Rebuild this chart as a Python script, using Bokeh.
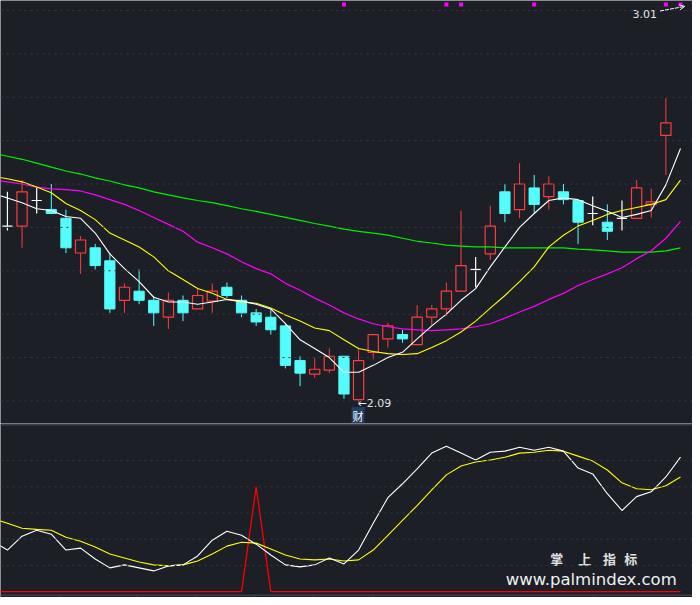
from bokeh.plotting import figure
from bokeh.layouts import column
from bokeh.models import Span, Arrow, OpenHead
from bokeh.core.properties import value
from bokeh.embed import file_html
from bokeh.resources import INLINE

BG = "#1c1f26"
GRID = "#353a45"
RED = "#ff3c3c"
CYAN = "#54fcfc"

# ---------------- data ----------------
opens = [2.495, 2.495, 2.554, 2.533, 2.513, 2.433, 2.445, 2.415, 2.324, 2.345, 2.324, 2.285, 2.324, 2.304, 2.322, 2.354,
         2.324, 2.295, 2.285, 2.265, 2.185, 2.154, 2.163, 2.195, 2.095, 2.204, 2.235, 2.245, 2.222, 2.285, 2.304, 2.345,
         2.395, 2.431, 2.574, 2.533, 2.583, 2.563, 2.574, 2.554, 2.524, 2.504, 2.513, 2.513, 2.545, 2.704]
highs = [2.574, 2.601, 2.583, 2.592, 2.533, 2.472, 2.454, 2.433, 2.363, 2.395, 2.333, 2.342, 2.335, 2.351, 2.363, 2.365,
         2.335, 2.304, 2.304, 2.272, 2.195, 2.192, 2.213, 2.195, 2.213, 2.245, 2.272, 2.256, 2.313, 2.313, 2.365, 2.531,
         2.424, 2.542, 2.592, 2.640, 2.613, 2.610, 2.592, 2.556, 2.563, 2.545, 2.554, 2.601, 2.581, 2.790]
lows = [2.485, 2.445, 2.524, 2.524, 2.433, 2.385, 2.395, 2.295, 2.295, 2.315, 2.265, 2.258, 2.276, 2.304, 2.295, 2.329,
        2.285, 2.265, 2.245, 2.167, 2.126, 2.145, 2.156, 2.097, 2.090, 2.188, 2.215, 2.226, 2.222, 2.267, 2.288, 2.345,
        2.354, 2.417, 2.504, 2.513, 2.524, 2.533, 2.545, 2.454, 2.497, 2.463, 2.485, 2.513, 2.515, 2.613]
closes = [2.495, 2.574, 2.554, 2.524, 2.445, 2.463, 2.404, 2.304, 2.354, 2.324, 2.295, 2.324, 2.295, 2.335, 2.345, 2.335,
          2.295, 2.274, 2.256, 2.174, 2.156, 2.165, 2.195, 2.108, 2.185, 2.245, 2.265, 2.235, 2.285, 2.304, 2.345, 2.404,
          2.395, 2.495, 2.524, 2.592, 2.545, 2.592, 2.556, 2.504, 2.524, 2.483, 2.513, 2.583, 2.551, 2.733]

# moving-average lines (one point before the first candle to one after the last)
ma_white = [2.570, 2.560, 2.549, 2.535, 2.531, 2.517, 2.513, 2.479, 2.431, 2.397, 2.367, 2.331, 2.320, 2.320, 2.315, 2.320,
            2.326, 2.322, 2.315, 2.304, 2.270, 2.233, 2.213, 2.192, 2.158, 2.158, 2.174, 2.192, 2.204, 2.235, 2.265, 2.292,
            2.324, 2.351, 2.401, 2.447, 2.492, 2.524, 2.554, 2.560, 2.556, 2.542, 2.529, 2.515, 2.522, 2.531, 2.590, 2.674]
ma_yellow = [2.610, 2.604, 2.597, 2.585, 2.572, 2.547, 2.531, 2.510, 2.479, 2.463, 2.447, 2.424, 2.392, 2.372, 2.351, 2.340,
             2.326, 2.320, 2.317, 2.306, 2.290, 2.276, 2.260, 2.254, 2.233, 2.213, 2.206, 2.201, 2.199, 2.201, 2.215, 2.231,
             2.251, 2.276, 2.306, 2.335, 2.367, 2.401, 2.447, 2.474, 2.495, 2.508, 2.522, 2.531, 2.538, 2.545, 2.556, 2.601]
ma_magenta = [2.601, 2.597, 2.592, 2.585, 2.581, 2.579, 2.576, 2.567, 2.556, 2.545, 2.531, 2.515, 2.499, 2.483, 2.458, 2.445,
              2.431, 2.413, 2.397, 2.385, 2.363, 2.347, 2.329, 2.313, 2.295, 2.281, 2.270, 2.263, 2.258, 2.256, 2.254, 2.256,
              2.258, 2.263, 2.270, 2.283, 2.297, 2.310, 2.326, 2.340, 2.358, 2.372, 2.385, 2.399, 2.420, 2.438, 2.467, 2.506]
ma_green = [2.663, 2.656, 2.649, 2.640, 2.631, 2.622, 2.615, 2.606, 2.599, 2.590, 2.583, 2.574, 2.567, 2.560, 2.554, 2.549,
            2.542, 2.535, 2.529, 2.522, 2.515, 2.508, 2.501, 2.495, 2.488, 2.483, 2.479, 2.474, 2.467, 2.460, 2.456, 2.451,
            2.449, 2.447, 2.447, 2.445, 2.445, 2.445, 2.445, 2.445, 2.442, 2.440, 2.438, 2.435, 2.435, 2.435, 2.438, 2.445]

# lower indicator panel
ind_white = [38.5, 31.7, 42.3, 46.8, 43.8, 31.7, 33.2, 24.9, 18.1, 20.4, 18.1, 15.8, 19.6, 20.4, 27.2, 39.2,
             46.0, 43.0, 36.2, 27.9, 20.4, 18.9, 20.4, 25.7, 21.1, 31.7, 52.1, 71.7, 82.3, 93.6, 105.7, 110.9,
             105.7, 100.4, 106.4, 107.2, 110.2, 107.9, 110.2, 107.2, 94.3, 89.8, 74.7, 61.9, 72.5, 76.2, 87.5, 102.6]
ind_yellow = [55.8, 52.1, 48.3, 47.5, 46.8, 41.5, 38.5, 34.0, 28.7, 25.7, 22.6, 20.4, 19.6, 20.4, 23.4, 28.7,
              34.7, 37.7, 37.0, 32.5, 27.9, 24.9, 24.2, 24.9, 23.4, 24.2, 31.7, 43.0, 54.3, 65.7, 77.7, 89.1,
              95.8, 98.9, 100.4, 102.6, 105.7, 106.4, 107.9, 107.2, 103.4, 99.6, 92.8, 83.0, 78.5, 77.7, 80.8, 87.5]
ind_red = [0, 0, 0, 0, 0, 0, 0, 0, 0, 0, 0, 0, 0, 0, 0, 0, 0, 0, 80, 0, 0, 0, 0, 0,
           0, 0, 0, 0, 0, 0, 0, 0, 0, 0, 0, 0, 0, 0, 0, 0, 0, 0, 0, 0, 0, 0, 0, 0]

signal_dots = [23, 30, 31, 36, 45, 46]
signal_level = 3.006
max_label = "3.01"
min_label = "←2.09"
min_tag = "财"
price_grid = [2.092, 2.192, 2.292, 2.392, 2.492, 2.592, 2.692, 2.792, 2.892, 2.992]
ind_grid = [20, 40, 60, 80, 100]
date_ticks = [3.58, 8.85, 12.9, 16.9, 20.9, 25.0, 40.07]
wm_chars = ["掌", "上", "指", "标"]
wm_url = "www.palmindex.com"

n = len(opens)
xs = list(range(n))
line_x = list(range(-1, n + 1))
X_RANGE = (-0.473, 46.82)

# ---------------- main price panel ----------------
p = figure(width=692, height=423, x_range=X_RANGE, y_range=(2.04, 3.015),
           output_backend="svg", toolbar_location=None,
           background_fill_color=BG, border_fill_color=BG, min_border=0,
           outline_line_color=None, x_axis_location=None, y_axis_location=None)
p.grid.visible = False

for g in price_grid:
    p.add_layout(Span(location=g, dimension="width", line_color=GRID, line_width=1, line_dash="2 4"))

up = [i for i in xs if closes[i] > opens[i]]
dn = [i for i in xs if closes[i] < opens[i]]
dj = [i for i in xs if closes[i] == opens[i]]
W = 0.70

p.segment([xs[i] for i in up], [highs[i] for i in up], [xs[i] for i in up], [lows[i] for i in up],
          line_color=RED, line_width=1)
p.vbar(x=[xs[i] for i in up], width=W, top=[closes[i] for i in up], bottom=[opens[i] for i in up],
       fill_color=BG, line_color=RED, line_width=1.2)

p.segment([xs[i] for i in dn], [highs[i] for i in dn], [xs[i] for i in dn], [lows[i] for i in dn],
          line_color=CYAN, line_width=1)
p.vbar(x=[xs[i] for i in dn], width=W, top=[opens[i] for i in dn], bottom=[closes[i] for i in dn],
       fill_color=CYAN, line_color=CYAN, line_width=1)

p.segment([xs[i] for i in dj], [highs[i] for i in dj], [xs[i] for i in dj], [lows[i] for i in dj],
          line_color="white", line_width=1.2)
p.segment([xs[i] - W / 2 for i in dj], [opens[i] for i in dj], [xs[i] + W / 2 for i in dj], [opens[i] for i in dj],
          line_color="white", line_width=1.2)

p.line(line_x, ma_green, line_color="#00f000", line_width=1.2)
p.line(line_x, ma_magenta, line_color="#ff00ff", line_width=1.2)
p.line(line_x, ma_yellow, line_color="#ffff00", line_width=1.1)
p.line(line_x, ma_white, line_color="#ffffff", line_width=1.1)

p.scatter(signal_dots, [signal_level] * len(signal_dots), marker="square", size=4,
          fill_color="#ff00ff", line_color=None)

p.text(x=[44.39], y=[2.985], text=[max_label], text_color="#e6e6e6", text_font=value("DejaVu Sans"),
       text_font_size="11px", text_align="right", text_baseline="middle")
p.add_layout(Arrow(end=OpenHead(size=5, line_color="white", line_width=1), x_start=44.6, y_start=2.9907,
                   x_end=46.28, y_end=3.0014, line_color="white", line_width=1, line_dash="4 1"))

p.text(x=[23.92], y=[2.0855], text=[min_label], text_color="#e6e6e6", text_font=value("DejaVu Sans"),
       text_font_size="11px", text_align="left", text_baseline="middle")
p.text(x=[23.96], y=[2.057], text=[min_tag], text_color="#ffffff", text_font=value("Noto Sans CJK SC"),
       text_font_size="11px", text_align="center", text_baseline="middle",
       background_fill_color="#1f3d66", padding=1)

# ---------------- lower indicator panel ----------------
q = figure(width=692, height=174, x_range=p.x_range, y_range=(-4.5, 128.3),
           output_backend="svg", toolbar_location=None,
           background_fill_color=BG, border_fill_color=BG, min_border=0,
           outline_line_color=None, x_axis_location=None, y_axis_location=None)
q.grid.visible = False

q.add_layout(Span(location=127.6, dimension="width", line_color="#3a404c", line_width=2))
for g in ind_grid:
    q.add_layout(Span(location=g, dimension="width", line_color=GRID, line_width=1, line_dash="2 4"))
q.add_layout(Span(location=-2.8, dimension="width", line_color="#3a404c", line_width=1.5))
q.segment(date_ticks, [-2.8] * len(date_ticks), date_ticks, [-4.5] * len(date_ticks),
          line_color="#3a404c", line_width=1)

q.line(line_x, ind_red, line_color="#ff0000", line_width=1.3)
q.line(line_x, ind_yellow, line_color="#ffff00", line_width=1.1)
q.line(line_x, ind_white, line_color="#ffffff", line_width=1.1)

q.text(x=[37.55, 39.45, 41.15, 42.6], y=[24.9] * 4, text=wm_chars, text_color="#e0e0e0",
       text_font=value("Noto Sans CJK SC"), text_font_size="13px", text_font_style="bold",
       text_align="center", text_baseline="middle")
q.text(x=[39.9], y=[9.0], text=[wm_url], text_color="#f0f0f0", text_font=value("DejaVu Sans"),
       text_font_size="16.5px", text_align="center", text_baseline="alphabetic")

layout = column(p, q, spacing=0)
html = file_html(layout, INLINE)
html = html.replace("<body>", '<body style="background-color:#1c1f26;">', 1)
open("out.html", "w").write(html)
